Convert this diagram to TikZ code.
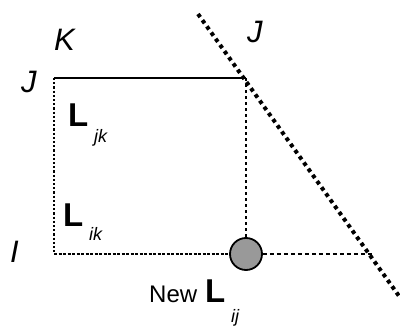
\documentclass[tikz,border=0pt]{standalone}
\usepackage{fontspec}
\setmainfont{Liberation Sans}
\usepackage{tikz}
\usetikzlibrary{positioning}

\definecolor{dotgray}{RGB}{153,153,153}

\begin{document}
\begin{tikzpicture}[x=1pt, y=-1pt,
        axis/.style={font=\fontsize{31}{31}\selectfont\itshape, inner sep=0pt, anchor=base west},
        mat/.style={font=\fontsize{33}{33}\selectfont\bfseries, inner sep=0pt, anchor=base west},
        sub/.style={font=\fontsize{18}{18}\selectfont\itshape, inner sep=0pt, anchor=base west},
        solidline/.style={draw, line width=1.8pt},
        fineline/.style={draw, line width=1.8pt, dash pattern=on 2.2pt off 2pt},
        denseline/.style={draw, line width=2.2pt, dash pattern=on 3pt off 1.5pt},
        dotline/.style={draw, line width=2.4pt, dash pattern=on 3pt off 3pt},
        dashline/.style={draw, line width=2.4pt, dash pattern=on 4pt off 3pt},
        cutline/.style={draw, line width=4pt, dash pattern=on 3.8pt off 3.8pt},
        pivot/.style={circle, draw, line width=1.8pt, fill=dotgray, minimum size=32pt, inner sep=0pt}]

    \useasboundingbox (0,0) rectangle (400,327);

    % corners of the block
    \coordinate (jk) at (54,78);
    \coordinate (jj) at (246,78);
    \coordinate (ik) at (54,254);
    \node [pivot] (ij) at (246,254) {};
    \coordinate (cross) at (372,254);
    \coordinate (cutA) at (198,14);
    \coordinate (cutB) at (399,296);

    % index labels
    \node [axis] (labK) at (54,50) {K};
    \node [axis] (labJ) at (21,92) {J};
    \node [axis] (labJtop) at (247,42) {J};
    \node [axis] (labI) at (10,262) {I};

    % blocks
    \node [mat] (Ljk) at (68,126) {L};
    \node [sub] (sjk) at (94,142) {jk};
    \node [mat] (Lik) at (63,226) {L};
    \node [sub] (sik) at (89,240) {ik};
    \node [font=\fontsize{24}{24}\selectfont, inner sep=0pt, anchor=base west] (new) at (149,302) {New};
    \node [mat] (Lij) at (205,302) {L};
    \node [sub] (sij) at (231,322) {ij};

    \path [solidline] (jk) -- (jj);
    \path [fineline] (jk) -- (ik);
    \path [denseline] (ik) -- (ij);
    \path [dotline] (jj) -- (ij);
    \path [dashline] (ij) -- (cross);
    \path [cutline] (cutA) -- (cutB);

\end{tikzpicture}
\end{document}
